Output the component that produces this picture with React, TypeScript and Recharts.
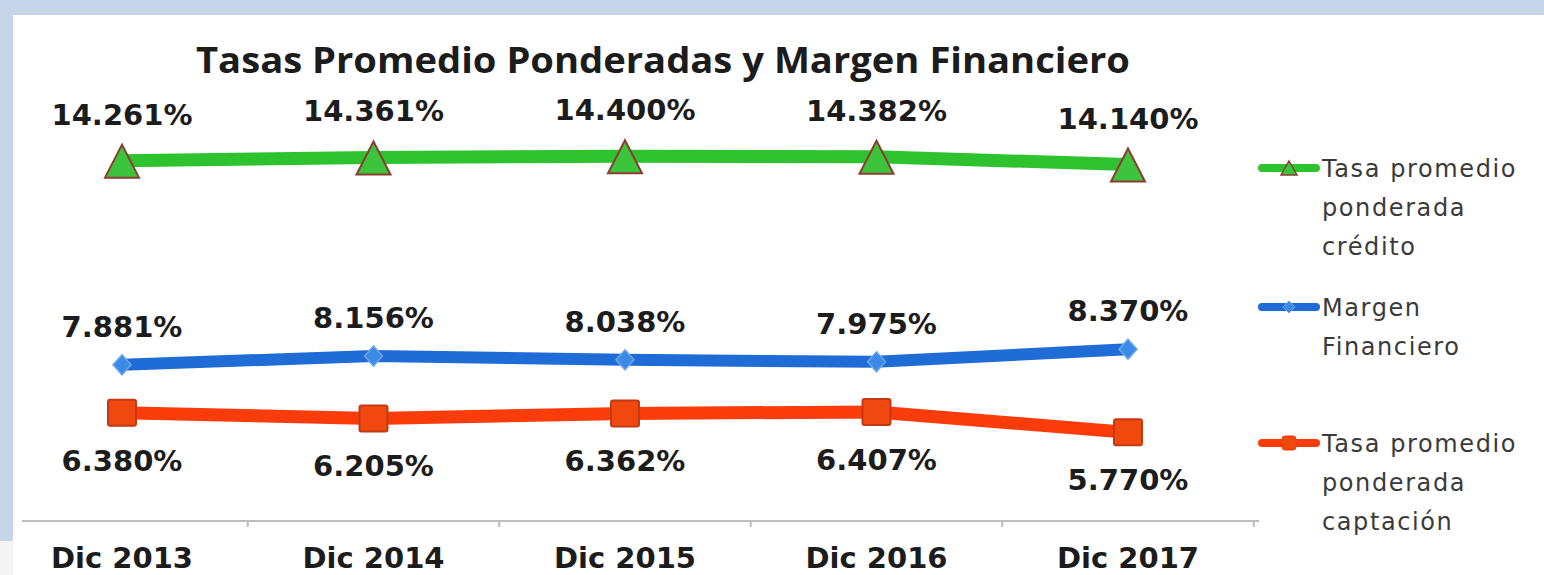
import React from "react";
import { LineChart, Line, XAxis, YAxis, Legend, LabelList } from "recharts";

// valores
const periods = ["Dic 2013", "Dic 2014", "Dic 2015", "Dic 2016", "Dic 2017"];
const tasaCredito = [14.261, 14.361, 14.4, 14.382, 14.14];
const margenFinanciero = [7.881, 8.156, 8.038, 7.975, 8.37];
const tasaCaptacion = [6.38, 6.205, 6.362, 6.407, 5.77];

const seriesKeys = ["credito", "margen", "captacion"];
const seriesNames = {
  credito: "Tasa promedio ponderada crédito",
  margen: "Margen Financiero",
  captacion: "Tasa promedio ponderada captación",
};

const data = periods.map((period, i) => ({
  period,
  credito: tasaCredito[i],
  margen: margenFinanciero[i],
  captacion: tasaCaptacion[i],
}));

const W = 1544;
const H = 575;
const PLOT_LEFT = 22;
const PLOT_RIGHT = 1259;
const PAD_L = 100;
const PAD_R = 131;
const STEP = (PLOT_RIGHT - PLOT_LEFT - PAD_L - PAD_R) / (periods.length - 1);

const GREEN = "#2fc22f";
const BLUE = "#1f6cd6";
const RED = "#fa3c0a";

const labelFont = { fontFamily: "DejaVu Sans", fontWeight: 700, fontSize: 29, fill: "#1c1c1c" };

const TriangleDot = (props: any) => {
  const { cx, cy, index } = props;
  if (cx == null || cy == null) return null;
  return (
    <polygon
      key={`tri-${index}`}
      points={`${cx},${cy - 16} ${cx + 17},${cy + 17} ${cx - 17},${cy + 17}`}
      fill="#3cc43c"
      stroke="#8a3d30"
      strokeWidth={2}
    />
  );
};

const DiamondDot = (props: any) => {
  const { cx, cy, index } = props;
  if (cx == null || cy == null) return null;
  return (
    <polygon
      key={`dia-${index}`}
      points={`${cx},${cy - 10} ${cx + 9},${cy} ${cx},${cy + 10} ${cx - 9},${cy}`}
      fill="#3b8be6"
      stroke="#6aa6ec"
      strokeWidth={1.5}
    />
  );
};

const SquareDot = (props: any) => {
  const { cx, cy, index } = props;
  if (cx == null || cy == null) return null;
  return (
    <rect
      key={`sq-${index}`}
      x={cx - 14}
      y={cy - 13}
      width={28}
      height={26}
      rx={2}
      fill="#f0480f"
      stroke="#c23a14"
      strokeWidth={2}
    />
  );
};

const makeLabel = (dy: number) => (props: any) => {
  const { x, y, value, index } = props;
  return (
    <text key={`lbl-${index}`} x={x} y={y + dy} textAnchor="middle" {...labelFont}>
      {`${Number(value).toFixed(3)}%`}
    </text>
  );
};

const AxisTick = (props: any) => {
  const { x, y, payload } = props;
  return (
    <g>
      <line x1={x + STEP / 2} x2={x + STEP / 2} y1={y} y2={y + 6} stroke="#bdbdbd" strokeWidth={2} />
      <text x={x} y={y + 47} textAnchor="middle" {...labelFont}>
        {payload.value}
      </text>
    </g>
  );
};

const legendTops = [152, 291, 427];

const LegendMarker = ({ kind, color }: { kind: string; color: string }) => {
  if (kind === "credito")
    return <polygon points="33,9 41,23 25,23" fill="#3cc43c" stroke="#8a3d30" strokeWidth={1.5} />;
  if (kind === "margen")
    return <polygon points="33,10 39,16 33,22 27,16" fill="#3b8be6" stroke="#6aa6ec" strokeWidth={1} />;
  return <rect x={26} y={9} width={14} height={14} rx={3} fill="#f0480f" stroke={color} strokeWidth={1} />;
};

const renderLegend = (props: any) => {
  const items = [...(props.payload || [])].sort(
    (a: any, b: any) => seriesKeys.indexOf(a.dataKey) - seriesKeys.indexOf(b.dataKey)
  );
  return (
    <div style={{ position: "relative", width: 288, height: H }}>
      {items.map((entry: any, i: number) => (
        <div
          key={entry.value}
          style={{ position: "absolute", left: 0, top: legendTops[i], display: "flex", alignItems: "flex-start" }}
        >
          <svg width={66} height={32} style={{ flex: "none" }}>
            <line x1={6} x2={60} y1={16} y2={16} stroke={entry.color} strokeWidth={8} strokeLinecap="round" />
            <LegendMarker kind={entry.dataKey} color={entry.color} />
          </svg>
          <div
            style={{
              width: 222,
              fontFamily: "DejaVu Sans",
              fontSize: 24,
              letterSpacing: 1.6,
              lineHeight: "39px",
              marginTop: -2,
              color: "#3a3a3a",
            }}
          >
            {entry.value}
          </div>
        </div>
      ))}
    </div>
  );
};

export default function App() {
  return (
    <div style={{ position: "absolute", left: 0, top: 0, width: W, height: H, background: "#c5d4e9", overflow: "hidden" }}>
      <div style={{ position: "absolute", left: 13, top: 15, right: 0, bottom: 0, background: "#ffffff" }} />
      <div style={{ position: "absolute", left: 0, top: 541, width: 13, height: 34, background: "#f4f4f4" }} />
      <svg width={W} height={100} style={{ position: "absolute", left: 0, top: 0 }}>
        <text
          x={663}
          y={73}
          textAnchor="middle"
          textLength={934}
          lengthAdjust="spacingAndGlyphs"
          fontFamily="Open Sans"
          fontWeight={700}
          fontSize={35}
          fill="#1c1c1c"
        >
          Tasas Promedio Ponderadas y Margen Financiero
        </text>
      </svg>
      <div style={{ position: "absolute", left: 0, top: 0 }}>
        <LineChart
          width={W}
          height={H}
          data={data}
          margin={{ top: 105, right: W - PLOT_RIGHT, bottom: 24, left: PLOT_LEFT }}
        >
          <XAxis
            dataKey="period"
            height={30}
            padding={{ left: PAD_L, right: PAD_R }}
            axisLine={{ stroke: "#bdbdbd", strokeWidth: 2 }}
            tickLine={false}
            tickSize={0}
            tickMargin={0}
            interval={0}
            tick={<AxisTick />}
          />
          <YAxis hide type="number" domain={[3, 16]} />
          <Legend
            layout="vertical"
            align="center"
            verticalAlign="middle"
            content={renderLegend}
            wrapperStyle={{ left: 1256, top: 0, width: 288, height: H }}
          />
          <Line
            type="linear"
            dataKey="credito"
            name={seriesNames.credito}
            stroke={GREEN}
            strokeWidth={13}
            dot={TriangleDot}
            activeDot={false}
            isAnimationActive={false}
          >
            <LabelList dataKey="credito" content={makeLabel(-36)} />
          </Line>
          <Line
            type="linear"
            dataKey="margen"
            name={seriesNames.margen}
            stroke={BLUE}
            strokeWidth={12}
            dot={DiamondDot}
            activeDot={false}
            isAnimationActive={false}
          >
            <LabelList dataKey="margen" content={makeLabel(-28)} />
          </Line>
          <Line
            type="linear"
            dataKey="captacion"
            name={seriesNames.captacion}
            stroke={RED}
            strokeWidth={13}
            dot={SquareDot}
            activeDot={false}
            isAnimationActive={false}
          >
            <LabelList dataKey="captacion" content={makeLabel(58)} />
          </Line>
        </LineChart>
      </div>
    </div>
  );
}
